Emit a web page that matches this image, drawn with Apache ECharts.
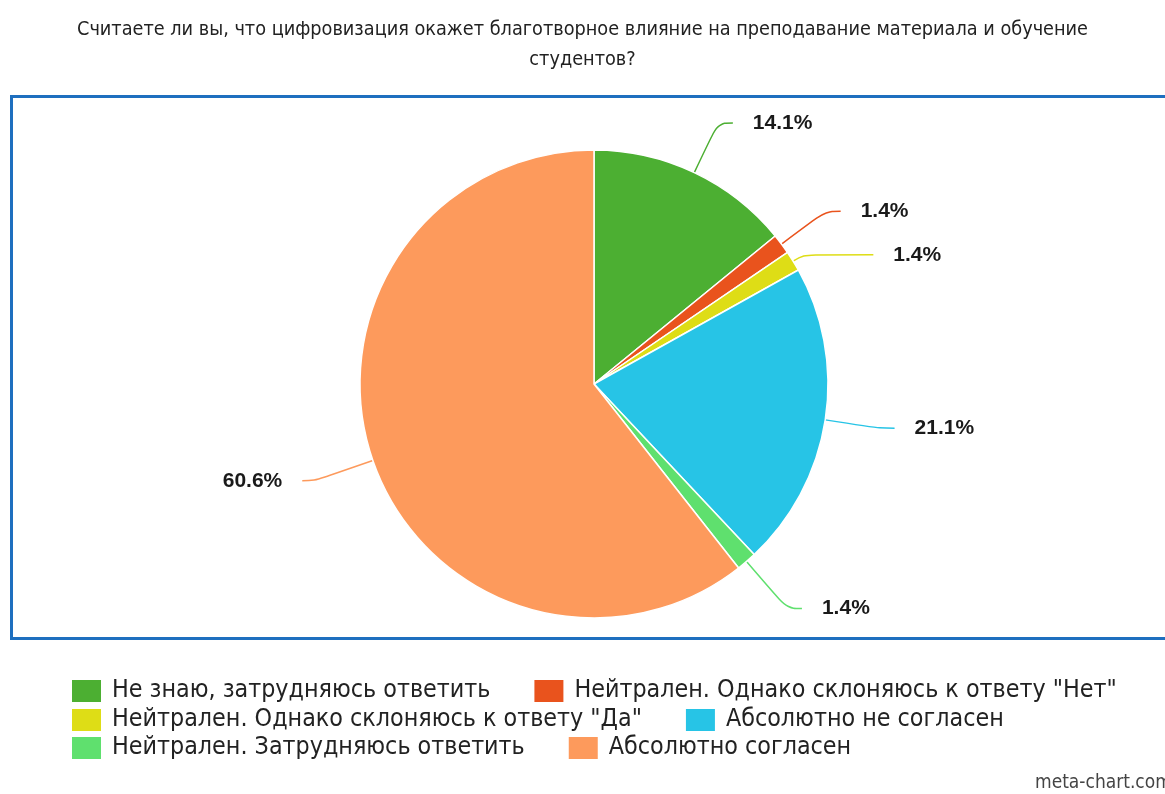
<!DOCTYPE html>
<html><head><meta charset="utf-8">
<script src="https://cdn.jsdelivr.net/npm/echarts@6/dist/echarts.min.js"></script>
<style>html,body{margin:0;padding:0;background:#fff}#c{width:1165px;height:794px}</style>
</head><body><div id="c"></div>
<script>
const titleLine1 = 'Считаете ли вы, что цифровизация окажет благотворное влияние на преподавание материала и обучение';
const titleLine2 = 'студентов?';
const categories = [
  'Не знаю, затрудняюсь ответить',
  'Нейтрален. Однако склоняюсь к ответу "Нет"',
  'Нейтрален. Однако склоняюсь к ответу "Да"',
  'Абсолютно не согласен',
  'Нейтрален. Затрудняюсь ответить',
  'Абсолютно согласен'
];
const values = [14.1, 1.4, 1.4, 21.1, 1.4, 60.6];
const colors = ['#4caf32', '#e9531d', '#dedd16', '#27c4e6', '#5fe06e', '#fd9a5c'];

// pick font sizes so text widths match the reference
const cv = document.createElement('canvas').getContext('2d');
function fitSize(text, family, weight, target) {
  cv.font = weight + ' 100px ' + family;
  return Math.round(100 * target / cv.measureText(text).width * 10) / 10;
}
const titleFamily = '"Liberation Sans Narrow","DejaVu Sans Condensed",sans-serif';
const legendFamily = '"DejaVu Sans Condensed","Liberation Sans Narrow",sans-serif';
const titleSize = fitSize(titleLine1, titleFamily, 'normal', 1012);
const legendSize = fitSize(categories[0], legendFamily, 'normal', 378);

const legendText = { fontFamily: legendFamily, fontSize: legendSize, color: '#222', padding: [0, 0, 0, 5] };
const rows = [[0, 1], [2, 3], [4, 5]];
const rowTops = [673, 702, 730];

// per-slice label line tweaks (index 2 sits low and far right in the reference)
const lineStyles = { 2: { length: 12, length2: 70 }, 4: { length: 62, length2: 15 }, 5: { length: 62, length2: 12 } };

const chart = echarts.init(document.getElementById('c'));
chart.setOption({
  animation: false,
  color: colors,
  title: {
    text: titleLine1 + '\n' + titleLine2,
    left: 'center', top: 10,
    textStyle: { fontFamily: titleFamily, fontSize: titleSize, fontWeight: 'normal', color: '#222', lineHeight: 30, align: 'center' }
  },
  legend: rows.map((r, k) => ({
    left: 65, top: rowTops[k],
    itemWidth: 31, itemHeight: 24, itemGap: 42,
    icon: 'rect',
    textStyle: legendText,
    data: r.map(i => categories[i])
  })),
  graphic: [
    { type: 'rect', shape: { x: 11.5, y: 96.5, width: 1200, height: 542 }, style: { fill: 'none', stroke: '#1e6fbf', lineWidth: 3 }, silent: true },
    { type: 'text', left: 1035, top: 774, style: { text: 'meta-chart.com', fill: '#444', font: '19px "DejaVu Sans Condensed", sans-serif' } }
  ],
  series: [{
    type: 'pie',
    center: [594, 384],
    radius: 234,
    startAngle: 90,
    clockwise: true,
    avoidLabelOverlap: true,
    itemStyle: { borderColor: '#fff', borderWidth: 1.5 },
    label: { formatter: '{c}%', fontFamily: '"Liberation Sans",Arial,sans-serif', fontWeight: 'bold', fontSize: 21, color: '#1a1a1a', distanceToLabelLine: 20 },
    labelLine: { length: 55, length2: 15, smooth: 0.4, lineStyle: { width: 1.5 } },
    data: categories.map((n, i) => {
      const d = { name: n, value: values[i] };
      if (lineStyles[i]) d.labelLine = lineStyles[i];
      return d;
    })
  }]
});
</script></body></html>
